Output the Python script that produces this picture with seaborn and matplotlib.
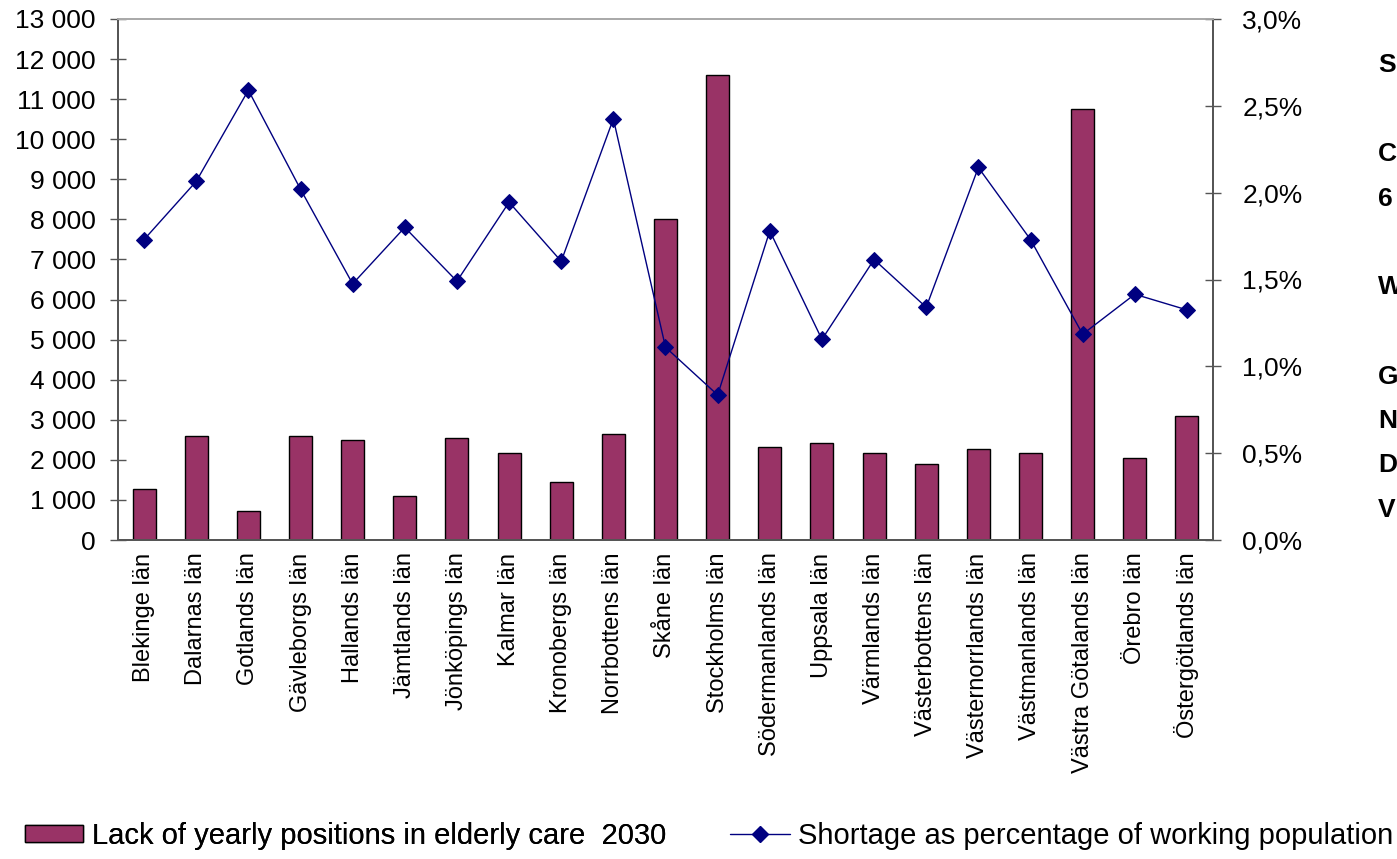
import matplotlib
matplotlib.use("Agg")
import matplotlib.pyplot as plt
import matplotlib.ticker as mticker
from matplotlib.lines import Line2D
from matplotlib.patches import Patch
import numpy as np
import pandas as pd
import seaborn as sns

regions = [
    "Blekinge län", "Dalarnas län", "Gotlands län", "Gävleborgs län", "Hallands län",
    "Jämtlands län", "Jönköpings län", "Kalmar län", "Kronobergs län", "Norrbottens län",
    "Skåne län", "Stockholms län", "Södermanlands län", "Uppsala län", "Värmlands län",
    "Västerbottens län", "Västernorrlands län", "Västmanlands län", "Västra Götalands län",
    "Örebro län", "Östergötlands län",
]
lack_positions = [
    1280, 2600, 730, 2600, 2500, 1100, 2550, 2170, 1450, 2650,
    8000, 11600, 2330, 2430, 2170, 1900, 2280, 2170, 10750, 2050, 3100,
]
shortage_pct = [
    1.73, 2.065, 2.59, 2.02, 1.475, 1.80, 1.49, 1.945, 1.605, 2.425,
    1.11, 0.835, 1.78, 1.155, 1.615, 1.34, 2.145, 1.73, 1.185, 1.415, 1.325,
]
bar_label = "Lack of yearly positions in elderly care  2030"
line_label = "Shortage as percentage of working population"
side_letters = ["S", "", "C", "6", "", "W", "", "G", "N", "D", "V"]

BAR = "#993366"
LINE = "#000080"
AXC = "#555555"
W, H = 1397, 859

sns.set_theme(style="white")
plt.rcParams["font.family"] = ["Liberation Sans", "DejaVu Sans"]
plt.rcParams["text.color"] = "black"
plt.rcParams["xtick.color"] = "black"
plt.rcParams["ytick.color"] = "black"

df = pd.DataFrame({"region": regions, "lack": lack_positions,
                   "pct": shortage_pct, "pos": np.arange(len(regions))})

fig = plt.figure(figsize=(W / 100, H / 100), dpi=100)
ax = fig.add_axes([118 / W, 1 - 540 / H, (1213 - 118) / W, (540 - 19) / H])

sns.barplot(data=df, x="region", y="lack", color=BAR, saturation=1, width=0.44,
            edgecolor="black", linewidth=1, ax=ax)
ax.set_ylim(0, 13000)
ax.set_xlim(-0.5, len(regions) - 0.5)
ax.yaxis.set_major_locator(mticker.MultipleLocator(1000))
ax.yaxis.set_major_formatter(mticker.FuncFormatter(lambda v, p: f"{int(v):,}".replace(",", " ")))
ax.set_xlabel("")
ax.set_ylabel("")

ax2 = ax.twinx()
sns.lineplot(data=df, x="pos", y="pct", color=LINE, linewidth=1, marker="D",
             markersize=8, markeredgecolor=LINE, ax=ax2)
ax2.set_ylim(0, 3.0)
ax2.yaxis.set_major_locator(mticker.MultipleLocator(0.5))
ax2.yaxis.set_major_formatter(mticker.FuncFormatter(lambda v, p: f"{v:.1f}%".replace(".", ",")))
ax2.set_xlabel("")
ax2.set_ylabel("")
ax2.set_xlim(-0.5, len(regions) - 0.5)

for a in (ax, ax2):
    for s in a.spines.values():
        s.set_color(AXC)
        s.set_linewidth(1.3)
    a.spines["top"].set_color("#aaaaaa")
    a.tick_params(axis="y", direction="inout", length=12, width=1, color=AXC,
                  labelsize=19, labelcolor="black")
ax.tick_params(axis="y", pad=10)
ax2.tick_params(axis="y", pad=15)

ax.set_xticks(np.arange(len(regions)))
ax.set_xticklabels(regions, rotation=90, fontsize=17)
ax.set_xticks(np.arange(len(regions) + 1) - 0.5, minor=True)
ax.tick_params(axis="x", which="major", length=0, pad=9, labelcolor="black")
ax.tick_params(axis="x", which="minor", direction="inout", length=12, width=1, color=AXC)

leg_kw = dict(loc="center left", frameon=False, fontsize=21, borderaxespad=0,
              borderpad=0, handletextpad=0.28, labelcolor="black")
leg1 = fig.legend(handles=[Patch(facecolor=BAR, edgecolor="black", linewidth=1, label=bar_label)],
                  bbox_to_anchor=(25 / W, 1 - 836 / H), handlelength=2.0,
                  handleheight=0.55, **leg_kw)
fig.legend(handles=[Line2D([0], [0], color=LINE, linewidth=1, marker="D", markersize=8,
                           label=line_label)],
           bbox_to_anchor=(730 / W, 1 - 836 / H), handlelength=2.05, **leg_kw)
fig.add_artist(leg1)

y0 = 65
for i, t in enumerate(side_letters):
    if t:
        fig.text(1378 / W, 1 - (y0 + i * 44.5) / H, t, fontsize=19,
                 fontweight="bold", va="center", ha="left")

fig.savefig("out.png", dpi=100)
